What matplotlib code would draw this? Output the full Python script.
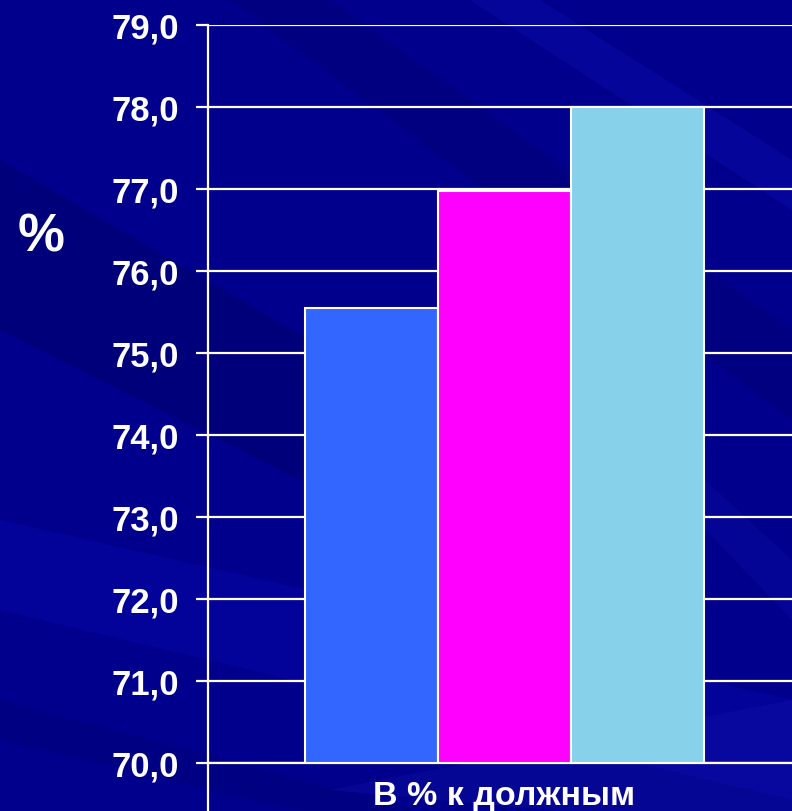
import matplotlib
matplotlib.use("Agg")
import matplotlib.pyplot as plt
from matplotlib.patches import Polygon
from matplotlib.lines import Line2D
from matplotlib.ticker import FuncFormatter

# Data
category = "В % к должным"
values = [75.55, 76.97, 78.0]
bar_colors = ["#3366FF", "#FF00FF", "#87D1EB"]
y_ticks = [70, 71, 72, 73, 74, 75, 76, 77, 78, 79]

plt.rcParams['font.family'] = ['Liberation Sans', 'DejaVu Sans']

W, H = 792, 811
fig = plt.figure(figsize=(W / 100, H / 100), dpi=100)
fig.patch.set_facecolor("#00008C")

# Background layer with soft diagonal streaks (pixel coordinates, y downward)
bg = fig.add_axes([0, 0, 1, 1], zorder=-5)
bg.set_xlim(0, W)
bg.set_ylim(H, 0)
bg.axis("off")
streaks = [
    ([(0, 160), (0, 330), (620, 640), (620, 520)], "#000066", 0.45),
    ([(0, 520), (0, 610), (792, 800), (792, 700)], "#0A0AB4", 0.35),
    ([(0, 700), (0, 740), (300, 811), (420, 811)], "#000070", 0.3),
    ([(230, 0), (330, 0), (792, 330), (792, 420)], "#00006A", 0.35),
    ([(470, 0), (540, 0), (792, 160), (792, 210)], "#1010B4", 0.35),
    ([(600, 420), (640, 420), (792, 560), (792, 620)], "#1414B0", 0.25),
    ([(330, 790), (792, 700), (792, 811), (560, 811)], "#1A1AB0", 0.25),
]
for pts, col, a in streaks:
    bg.add_patch(Polygon(pts, closed=True, facecolor=col, edgecolor="none", alpha=a))

# Axes geometry: y=79 at 25 px, y=70 at 763 px; plot spans x 208..801 px
left, right = 208 / W, 801 / W
bottom, top = (H - 763) / H, (H - 25) / H
ax = fig.add_axes([left, bottom, right - left, top - bottom], zorder=1)
ax.set_facecolor("none")

bar_w = 0.224
offsets = [-bar_w, 0.0, bar_w]
for off, v, c in zip(offsets, values, bar_colors):
    ax.bar(off, v - 70, bottom=70, width=bar_w, color=c, edgecolor="white",
           linewidth=1.5, zorder=3)

ax.set_xlim(-0.5, 0.5)
ax.set_ylim(70, 79)
ax.set_yticks(y_ticks)
ax.yaxis.set_major_formatter(FuncFormatter(lambda v, p: f"{v:.1f}".replace(".", ",")))
ax.grid(axis="y", color="white", linewidth=1.6, zorder=1)
ax.set_axisbelow(True)

for s in ["top", "right"]:
    ax.spines[s].set_visible(False)
for s in ["left", "bottom"]:
    ax.spines[s].set_color("white")
    ax.spines[s].set_linewidth(1.6)

ax.tick_params(axis="y", colors="white", length=9, width=1.6, direction="out", pad=12)
for lab in ax.get_yticklabels():
    lab.set_fontsize(25)
    lab.set_fontweight("bold")
    lab.set_color("white")

ax.set_xticks([0])
ax.set_xticklabels([category], fontsize=24.5, fontweight="bold", color="white")
ax.tick_params(axis="x", length=0, pad=13)

# Category-axis tick continuing below the left spine
ax.add_line(Line2D([0, 0], [0, -0.08], transform=ax.transAxes, color="white",
                   linewidth=1.6, clip_on=False))

fig.text(41 / W, 1 - 238 / H, "%", fontsize=38, fontweight="bold", color="white",
         ha="center", va="center")

fig.savefig("out.png", dpi=100, facecolor=fig.get_facecolor())
